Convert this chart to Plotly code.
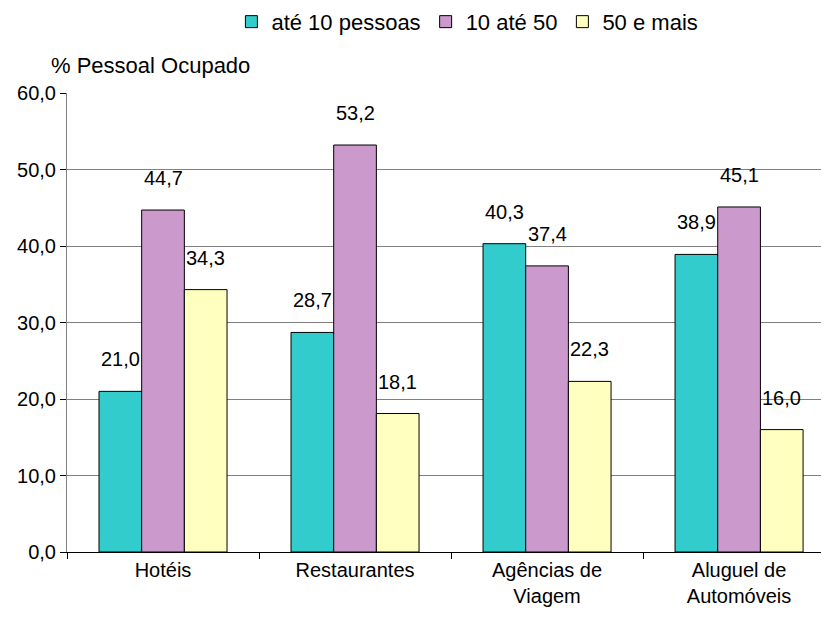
import plotly.graph_objects as go

categories = ["Hotéis", "Restaurantes", "Agências de<br>Viagem", "Aluguel de<br>Automóveis"]
series_names = ["até 10 pessoas", "10 até 50", "50 e mais"]
ate10 = [21.0, 28.7, 40.3, 38.9]
de10a50 = [44.7, 53.2, 37.4, 45.1]
mais50 = [34.3, 18.1, 22.3, 16.0]
colors = ["#33CCCC", "#CC99CC", "#FFFFC0"]
values = [ate10, de10a50, mais50]

FONT = "Liberation Sans, Arial, sans-serif"
FS = 20
fig = go.Figure()
for name, vals, col in zip(series_names, values, colors):
    fig.add_trace(go.Bar(
        name=name, x=categories, y=vals,
        marker=dict(color=col, line=dict(color="black", width=1)),
    ))

bar_px = 42.7
annotations = []
for si, vals in enumerate(values):
    for ci, v in enumerate(vals):
        annotations.append(dict(
            x=categories[ci], y=v, xref="x", yref="y",
            text=f"{v:.1f}".replace(".", ","), showarrow=False,
            xanchor="center", yanchor="bottom",
            xshift=(si - 1) * bar_px, yshift=19,
            font=dict(family=FONT, size=FS, color="black"),
        ))
annotations.append(dict(
    x=-0.024, y=1.061, xref="paper", yref="paper", text="% Pessoal Ocupado",
    showarrow=False, xanchor="left", yanchor="middle",
    font=dict(family=FONT, size=22, color="black"),
))

fig.update_layout(
    width=829, height=618,
    margin=dict(l=59, r=0, t=85, b=74, autoexpand=False),
    paper_bgcolor="white", plot_bgcolor="white",
    barmode="group", bargap=1/3, bargroupgap=0,
    separators=",.",
    font=dict(family=FONT, size=FS, color="black"),
    showlegend=True,
    legend=dict(orientation="h", x=0.52, xanchor="center", y=1.155, yanchor="middle",
                font=dict(family=FONT, size=22), itemwidth=30, traceorder="normal"),
    annotations=annotations,
)
fig.update_xaxes(
    range=[-0.5, 3.51], showgrid=False, showline=True, linecolor="black", linewidth=1,
    ticks="outside", tickson="boundaries", ticklen=6, tickcolor="black",
    tickfont=dict(family=FONT, size=FS), automargin=False,
)
fig.update_yaxes(
    range=[0, 60], dtick=10, tickformat=".1f", showgrid=True, gridcolor="#808080", gridwidth=1,
    showline=True, linecolor="#808080", linewidth=1, ticks="outside", ticklen=6, tickcolor="black",
    tickfont=dict(family=FONT, size=FS), zeroline=False, automargin=False,
)
fig.write_html("out.html")
